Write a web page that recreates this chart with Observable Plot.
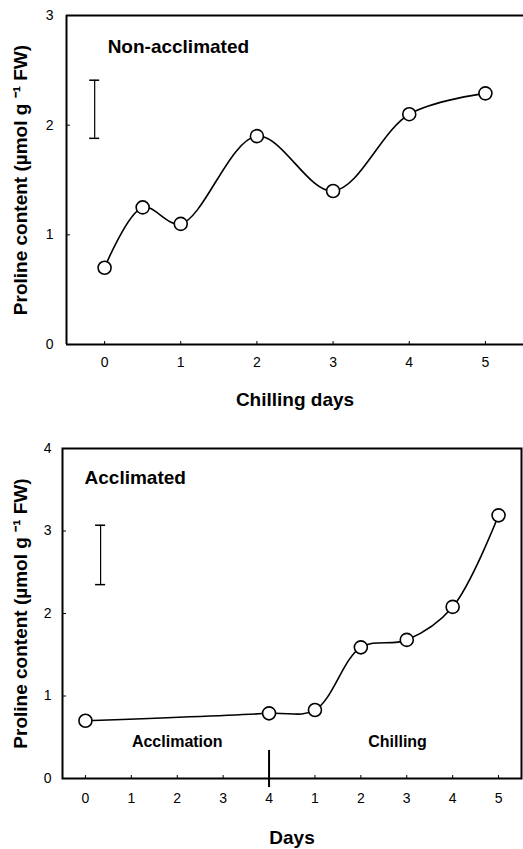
<!DOCTYPE html>
<html>
<head>
<meta charset="utf-8">
<script src="https://cdn.jsdelivr.net/npm/d3@7"></script>
<script src="https://cdn.jsdelivr.net/npm/@observablehq/plot@0.6"></script>
<style>
  body { margin: 0; background: #fff; }
  #chart svg { display: block; font-family: "Liberation Sans", Arial, sans-serif; }
  #chart [aria-label="x-axis label"], #chart [aria-label="y-axis label"] { font-weight: bold; font-size: 19px; }
  #chart [aria-label="x-axis tick label"], #chart [aria-label="y-axis tick label"] { font-size: 14px; }
</style>
</head>
<body>
<div id="chart"></div>
<script>
// ---- Top panel: Non-acclimated ----
const topDays = [0, 0.5, 1, 2, 3, 4, 5];
const topProline = [0.70, 1.25, 1.10, 1.90, 1.40, 2.10, 2.29];
const topTicksX = [0, 1, 2, 3, 4, 5];
const topTicksY = [0, 1, 2, 3];
const topErrX = -0.13, topErrLow = 1.88, topErrHigh = 2.41;

// ---- Bottom panel: Acclimated ----
const botPos = [0, 4, 5, 6, 7, 8, 9];
const botProline = [0.70, 0.79, 0.83, 1.59, 1.68, 2.08, 3.19];
const botTickPos = [0, 1, 2, 3, 4, 5, 6, 7, 8, 9];
const botTickLabels = ["0", "1", "2", "3", "4", "1", "2", "3", "4", "5"];
const botTicksY = [0, 1, 2, 3, 4];
const botErrX = 0.33, botErrLow = 2.35, botErrHigh = 3.07;

const yLabel = "Proline content (\u00b5mol g \u207b\u00b9 FW)";

const topData = topDays.map((d, i) => ({x: d, y: topProline[i]}));
const botData = botPos.map((d, i) => ({x: d, y: botProline[i]}));

const topPlot = Plot.plot({
  width: 523, height: 420,
  marginLeft: 66, marginTop: 15, marginBottom: 76, marginRight: 0,
  style: {fontFamily: "Liberation Sans, Arial, sans-serif", fontSize: "14px"},
  x: {domain: [-0.5, 5.5]},
  y: {domain: [0, 3]},
  marks: [
    Plot.ruleY([0, 3], {strokeWidth: 2}),
    Plot.ruleX([-0.5], {strokeWidth: 2}),
    Plot.axisX({ticks: topTicksX, tickFormat: "d", tickSize: -3, tickPadding: 16, label: "Chilling days", labelAnchor: "center", labelArrow: "none", labelOffset: 61}),
    Plot.axisY({ticks: topTicksY, tickFormat: "d", tickSize: -4, tickPadding: 17, label: yLabel, labelAnchor: "center", labelArrow: "none", labelOffset: 53}),
    Plot.ruleX([topErrX], {y1: topErrLow, y2: topErrHigh, strokeWidth: 1.2}),
    Plot.ruleY([topErrLow, topErrHigh], {x1: topErrX, x2: topErrX, insetLeft: -5, insetRight: -5, strokeWidth: 1.5}),
    Plot.line(topData, {x: "x", y: "y", curve: "catmull-rom", strokeWidth: 1.6}),
    Plot.dot(topData, {x: "x", y: "y", r: 6.5, fill: "white", stroke: "black", strokeWidth: 1.6}),
    Plot.text(["Non-acclimated"], {x: 0.04, y: 2.71, textAnchor: "start", fontWeight: "bold", fontSize: 19})
  ]
});

const botPlot = Plot.plot({
  width: 523, height: 429,
  marginLeft: 62, marginTop: 28, marginBottom: 71, marginRight: 2,
  style: {fontFamily: "Liberation Sans, Arial, sans-serif", fontSize: "14px"},
  x: {domain: [-0.5, 9.5]},
  y: {domain: [0, 4]},
  marks: [
    Plot.frame({strokeWidth: 2}),
    Plot.axisX({ticks: botTickPos, tickFormat: (d, i) => botTickLabels[i], tickSize: -3, tickPadding: 18, label: "Days", labelAnchor: "center", labelArrow: "none", labelOffset: 65}),
    Plot.axisY({ticks: botTicksY, tickFormat: "d", tickSize: -4, tickPadding: 15, label: yLabel, labelAnchor: "center", labelArrow: "none", labelOffset: 49}),
    Plot.ruleX([4], {y1: -0.11, y2: 0.34, strokeWidth: 2}),
    Plot.ruleX([botErrX], {y1: botErrLow, y2: botErrHigh, strokeWidth: 1.2}),
    Plot.ruleY([botErrLow, botErrHigh], {x1: botErrX, x2: botErrX, insetLeft: -5, insetRight: -5, strokeWidth: 1.5}),
    Plot.line(botData, {x: "x", y: "y", curve: "catmull-rom", strokeWidth: 1.6}),
    Plot.dot(botData, {x: "x", y: "y", r: 6.5, fill: "white", stroke: "black", strokeWidth: 1.6}),
    Plot.text(["Acclimated"], {x: -0.02, y: 3.64, textAnchor: "start", fontWeight: "bold", fontSize: 19}),
    Plot.text(["Acclimation"], {x: 2.0, y: 0.45, fontWeight: "bold", fontSize: 16}),
    Plot.text(["Chilling"], {x: 6.8, y: 0.44, fontWeight: "bold", fontSize: 16})
  ]
});

document.getElementById("chart").append(topPlot, botPlot);
</script>
</body>
</html>
